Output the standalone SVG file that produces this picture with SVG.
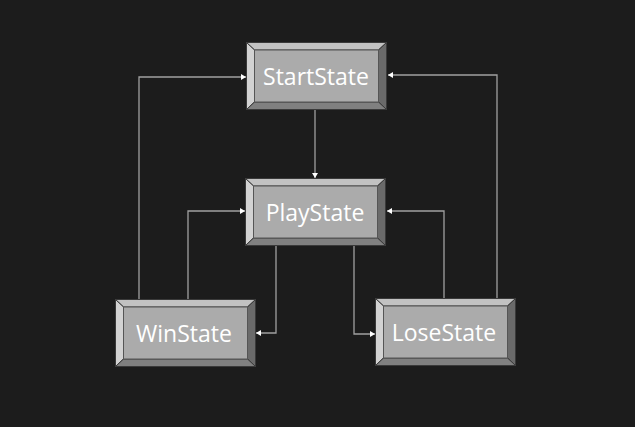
<svg xmlns="http://www.w3.org/2000/svg" width="635" height="427" viewBox="0 0 635 427">
<style>
.lbl{font-family:"Open Sans","Noto Sans","DejaVu Sans",sans-serif;font-size:23px;fill:#ffffff;text-anchor:middle}
.edge{fill:none;stroke:#a0a0a0;stroke-width:1.3}
</style>
<defs>
<marker id="arr" markerUnits="userSpaceOnUse" markerWidth="8" markerHeight="8" refX="5" refY="3" orient="auto">
<path d="M0,0 L5,3 L0,6 Z" fill="#ffffff"/>
</marker>
<g id="btn">
<rect x="0" y="0" width="141" height="68" fill="#3a3a3a"/>
<polygon points="0.5,0.5 140.5,0.5 132.5,8 8.5,8" fill="#c2c2c2" stroke="#3a3a3a" stroke-width="1"/>
<polygon points="0.5,0.5 8.5,8 8.5,60 0.5,67.5" fill="#d2d2d2" stroke="#3a3a3a" stroke-width="1"/>
<polygon points="140.5,0.5 140.5,67.5 132.5,60 132.5,8" fill="#6a6a6a" stroke="#3a3a3a" stroke-width="1"/>
<polygon points="0.5,67.5 8.5,60 132.5,60 140.5,67.5" fill="#808080" stroke="#3a3a3a" stroke-width="1"/>
<rect x="8.5" y="8" width="124" height="52" fill="#ababab" stroke="#555555" stroke-width="1"/>
</g>
</defs>
<rect width="635" height="427" fill="#1c1c1c"/>
<g id="connectors">
<path class="edge" d="M315,110 V178" marker-end="url(#arr)"/>
<path class="edge" d="M139,299 V77 H246" marker-end="url(#arr)"/>
<path class="edge" d="M188,299 V211 H245" marker-end="url(#arr)"/>
<path class="edge" d="M276,246 V333 H256" marker-end="url(#arr)"/>
<path class="edge" d="M354,246 V334 H375" marker-end="url(#arr)"/>
<path class="edge" d="M444,298 V211 H387" marker-end="url(#arr)"/>
<path class="edge" d="M497,298 V75 H388" marker-end="url(#arr)"/>
</g>
<g id="StartState">
<use href="#btn" x="246" y="42"/>
<text class="lbl" x="316" y="85">StartState</text>
</g>
<g id="PlayState">
<use href="#btn" x="245" y="178"/>
<text class="lbl" x="315" y="221">PlayState</text>
</g>
<g id="WinState">
<use href="#btn" x="115" y="299"/>
<text class="lbl" x="184" y="342">WinState</text>
</g>
<g id="LoseState">
<use href="#btn" x="375" y="298"/>
<text class="lbl" x="444" y="341">LoseState</text>
</g>
</svg>
